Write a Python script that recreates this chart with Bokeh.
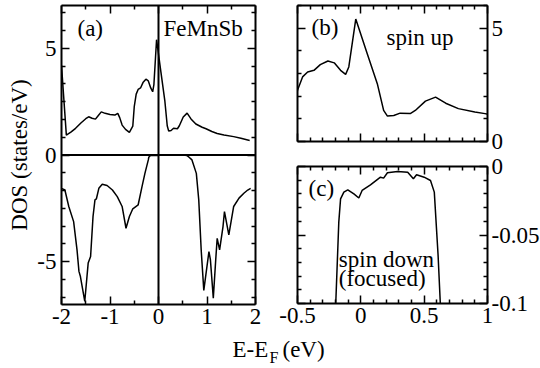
from bokeh.plotting import figure
from bokeh.models import Range1d, FixedTicker, LinearAxis, Span, Label
from bokeh.layouts import row, column
from bokeh.embed import file_html
from bokeh.resources import INLINE

FONT = "Liberation Serif"

# ---- data ----
up_E = [-2.00, -1.90, -1.80, -1.71, -1.60, -1.50, -1.44, -1.37, -1.30, -1.24,
        -1.18, -1.10, -1.00, -0.90, -0.84, -0.80, -0.75, -0.68, -0.60, -0.53,
        -0.50, -0.46, -0.42, -0.37, -0.32, -0.26, -0.21, -0.16, -0.12, -0.095,
        -0.04, 0.05, 0.13, 0.18, 0.21, 0.26, 0.31, 0.39, 0.43, 0.51,
        0.59, 0.67, 0.77, 0.90, 0.98, 1.10, 1.21, 1.35, 1.55, 1.70, 1.88]
up_D = [4.20, 0.93, 1.08, 1.25, 1.50, 1.70, 1.79, 1.72, 1.68, 1.85,
        2.02, 1.95, 1.90, 1.87, 1.95, 1.75, 1.40, 1.20, 1.06, 1.35,
        2.26, 2.85, 3.07, 3.14, 3.39, 3.55, 3.47, 3.14, 2.96, 3.29,
        5.40, 3.88, 2.55, 1.37, 1.12, 1.15, 1.25, 1.23, 1.37, 1.78,
        1.96, 1.69, 1.45, 1.30, 1.23, 1.10, 1.01, 0.94, 0.86, 0.78, 0.68]

dn_E = [-2.00, -1.93, -1.85, -1.75, -1.68, -1.64, -1.61, -1.52, -1.45, -1.40,
        -1.35, -1.31, -1.28, -1.23, -1.16, -1.06, -0.95, -0.85, -0.75, -0.67,
        -0.60, -0.53, -0.42, -0.34, -0.28, -0.21, -0.20, -0.174, -0.16, -0.134,
        -0.103, -0.055, -0.016, 0.01, 0.076, 0.155, 0.18, 0.21, 0.29, 0.37,
        0.415, 0.44, 0.50, 0.55, 0.58, 0.61, 0.63, 0.69, 0.78, 0.83,
        0.88, 0.934, 1.04, 1.07, 1.13, 1.18, 1.21, 1.26, 1.33, 1.36,
        1.45, 1.55, 1.66, 1.76, 1.84, 1.90]
dn_D = [-1.56, -1.64, -2.41, -3.12, -4.44, -5.45, -5.69, -6.85, -5.06, -4.75,
        -2.88, -2.10, -2.05, -1.56, -1.37, -1.43, -1.64, -1.95, -2.41, -3.43,
        -2.88, -2.52, -2.34, -1.48, -0.86, -0.23, -0.105, -0.0406, -0.0236, -0.0187,
        -0.017, -0.020, -0.023, -0.0175, -0.0134, -0.0078, -0.0085, -0.0046, -0.0036, -0.0042,
        -0.009, -0.006, -0.0078, -0.0102, -0.0187, -0.065, -0.105, -0.23, -0.86, -2.10,
        -4.44, -6.34, -4.52, -4.90, -6.70, -4.90, -3.90, -4.44, -3.35, -2.65,
        -3.74, -2.41, -2.02, -1.79, -1.64, -1.56]

# ---- ticks and tick labels ----
a_xticks = [-2, -1, 0, 1, 2]
a_xlabels = ["-2", "-1", "0", "1", "2"]
a_xminor = [-1.5, -0.5, 0.5, 1.5]
a_yticks = [-5, 0, 5]
a_ylabels = ["-5", "0", "5"]
a_yminor = [k * 5 / 6 for k in range(-8, 9) if k % 6 != 0]

bc_xticks = [-0.5, 0, 0.5, 1]
bc_xlabels = ["-0.5", "0", "0.5", "1"]
bc_xminor = [round(-0.5 + 0.1 * k, 2) for k in range(16) if k % 5 != 0]
b_yticks = [0, 5]
b_ylabels = ["0", "5"]
b_yminor = [1, 2, 3, 4, 6]
c_yticks = [-0.1, -0.05, 0]
c_ylabels = ["-0.1", "-0.05", "0"]
c_yminor = [round(-0.01 * k, 2) for k in range(1, 10) if k != 5]

TICK_FS = "23px"
TEXT_FS = "23px"
AXLAB_FS = "23px"


def add_axis(p, side, ticks, minor, labels=None, standoff=4):
    ax = LinearAxis()
    ax.ticker = FixedTicker(ticks=ticks, minor_ticks=minor)
    ax.axis_line_width = 2
    ax.axis_line_color = "black"
    ax.major_tick_in = 8
    ax.major_tick_out = 0
    ax.minor_tick_in = 4
    ax.minor_tick_out = 0
    ax.major_tick_line_width = 1.5
    ax.minor_tick_line_width = 1.5
    ax.major_tick_line_color = "black"
    ax.minor_tick_line_color = "black"
    if labels is None:
        ax.major_label_text_font_size = "0px"
        ax.major_label_text_alpha = 0
        ax.major_label_standoff = 0
    else:
        ax.major_label_overrides = dict(zip(ticks, labels))
        ax.major_label_text_font = FONT
        ax.major_label_text_font_size = TICK_FS
        ax.major_label_text_color = "black"
        ax.major_label_standoff = standoff
    p.add_layout(ax, side)
    return ax


def make_fig(xr, yr, fw, fh, bl, br, bt, bb):
    p = figure(x_range=Range1d(*xr), y_range=Range1d(*yr),
               frame_width=fw, frame_height=fh,
               min_border_left=bl, min_border_right=br,
               min_border_top=bt, min_border_bottom=bb,
               x_axis_location=None, y_axis_location=None,
               output_backend="svg", toolbar_location=None)
    p.grid.visible = False
    p.outline_line_color = None
    p.background_fill_color = "white"
    p.border_fill_color = "white"
    return p


def add_text(p, x, y, text, size=TEXT_FS):
    # y is the vertical middle of the text
    p.add_layout(Label(x=x, y=y, text=text, text_font=FONT, text_font_size=size,
                       text_color="black", text_baseline="middle",
                       text_align="left"))


# ---- panel (a) ----
pa = make_fig((-2, 2), (-7, 7), 194, 299, 61, 21, 5, 31)
add_axis(pa, "below", a_xticks, a_xminor, a_xlabels, standoff=4)
add_axis(pa, "above", a_xticks, a_xminor)
ya = add_axis(pa, "left", a_yticks, a_yminor, a_ylabels, standoff=5)
ya.axis_label = "DOS (states/eV)"
ya.axis_label_text_font = FONT
ya.axis_label_text_font_size = AXLAB_FS
ya.axis_label_text_font_style = "normal"
ya.axis_label_text_color = "black"
ya.axis_label_standoff = 2
add_axis(pa, "right", a_yticks, a_yminor)
pa.add_layout(Span(location=0, dimension="width", line_color="black", line_width=2))
pa.add_layout(Span(location=0, dimension="height", line_color="black", line_width=2))
pa.line(up_E, up_D, line_color="black", line_width=1.5)
pa.line(dn_E, dn_D, line_color="black", line_width=1.5)
add_text(pa, -1.67, 5.94, "(a)")
add_text(pa, 0.103, 5.94, "FeMnSb")

# ---- panel (b) ----
pb = make_fig((-0.5, 1), (0, 6), 190, 136, 21, 53, 5, 12)
add_axis(pb, "below", bc_xticks, bc_xminor)
add_axis(pb, "above", bc_xticks, bc_xminor)
add_axis(pb, "left", b_yticks, b_yminor)
add_axis(pb, "right", b_yticks, b_yminor, b_ylabels, standoff=4)
pb.line(up_E, up_D, line_color="black", line_width=1.5)
add_text(pb, -0.389, 5.02, "(b)")
add_text(pb, 0.2026, 4.61, "spin up")

# ---- panel (c) ----
pc = make_fig((-0.5, 1), (-0.1, 0), 190, 137, 21, 53, 13, 32)
add_axis(pc, "below", bc_xticks, bc_xminor, bc_xlabels, standoff=4)
add_axis(pc, "above", bc_xticks, bc_xminor)
add_axis(pc, "left", c_yticks, c_yminor)
add_axis(pc, "right", c_yticks, c_yminor, c_ylabels, standoff=4)
pc.line(dn_E, dn_D, line_color="black", line_width=1.5)
add_text(pc, -0.413, -0.0162, "(c)")
add_text(pc, -0.174, -0.0679, "spin down")
add_text(pc, -0.174, -0.0818, "(focused)")

# ---- shared x label ----
pl = make_fig((0, 540), (0, 33), 540, 33, 0, 0, 0, 0)
add_text(pl, 232, 19, "E-E", size=AXLAB_FS)
add_text(pl, 269, 11.4, "F", size="16px")
add_text(pl, 282, 19, "(eV)", size=AXLAB_FS)

layout = column(row(pa, column(pb, pc)), pl)

open("out.html", "w").write(file_html(layout, INLINE))
